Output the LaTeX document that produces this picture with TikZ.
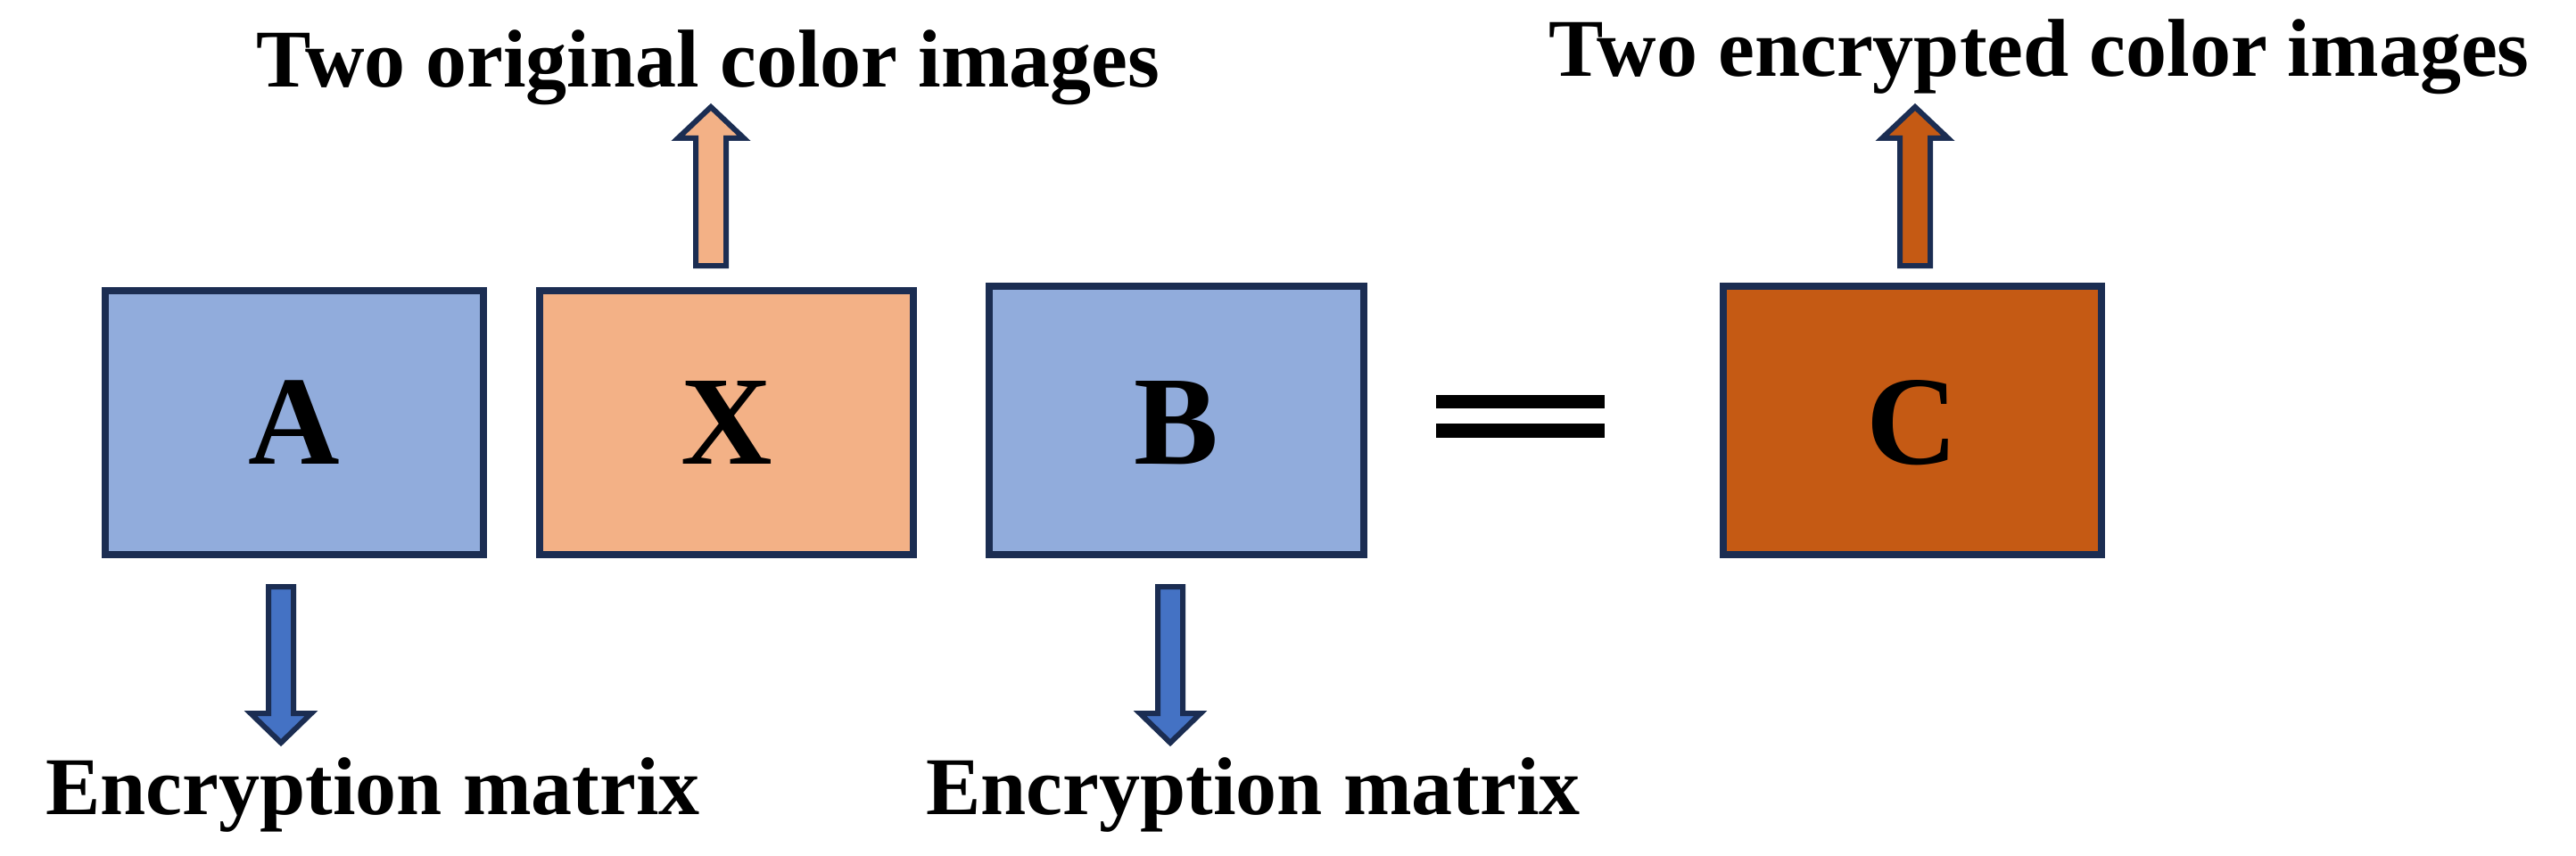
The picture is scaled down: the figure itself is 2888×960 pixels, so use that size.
\documentclass[tikz,border=0pt]{standalone}
\usepackage{fontspec}
\setmainfont{Liberation Serif}
\begin{document}
\begin{tikzpicture}[x=1pt,y=-1pt,
  box/.style={draw=edge,line width=8pt},
  lbl/.style={font=\fontsize{92}{100}\selectfont\bfseries,inner sep=0pt,anchor=base},
  big/.style={font=\fontsize{142}{150}\selectfont\bfseries,inner sep=0pt},
  arr/.style={draw=edge,line width=6pt,line join=miter}]
\definecolor{edge}{HTML}{1B2D52}
\definecolor{blueF}{HTML}{91ACDC}
\definecolor{orangeF}{HTML}{F3B186}
\definecolor{brownF}{HTML}{C55A14}
\definecolor{blueA}{HTML}{4472C4}
\useasboundingbox (0,0) rectangle (2888,960);
\draw[box,fill=blueF] (118,326) rectangle (542,622);
\draw[box,fill=orangeF] (605,326) rectangle (1024,622);
\draw[box,fill=blueF] (1109,321) rectangle (1529,622);
\draw[box,fill=brownF] (1932,321) rectangle (2356,622);
\node[big] (a) at (330,474) {A};
\node[big] (x) at (815,474) {X};
\node[big] (b) at (1319,474) {B};
\node[big] (c) at (2144,474) {C};
\fill (1610,443) rectangle (1799,458);
\fill (1610,475) rectangle (1799,491);
% up arrows
\foreach \cx/\col in {797/orangeF,2147/brownF}{
  \draw[arr,fill=\col] (\cx-17,298) -- (\cx-17,155) -- (\cx-37,155) -- (\cx,120) -- (\cx+37,155) -- (\cx+17,155) -- (\cx+17,298) -- cycle;
}
% down arrows
\foreach \cx in {315,1312}{
  \draw[arr,fill=blueA] (\cx-14,658) -- (\cx-14,800) -- (\cx-34,800) -- (\cx,833) -- (\cx+34,800) -- (\cx+14,800) -- (\cx+14,658) -- cycle;
}
\node[lbl] (t1) at (794,98) {Two original color images};
\node[lbl] (t2) at (2286,86) {Two encrypted color images};
\node[lbl] (e1) at (418,913) {Encryption matrix};
\node[lbl] (e2) at (1405,913) {Encryption matrix};
\end{tikzpicture}
\end{document}
